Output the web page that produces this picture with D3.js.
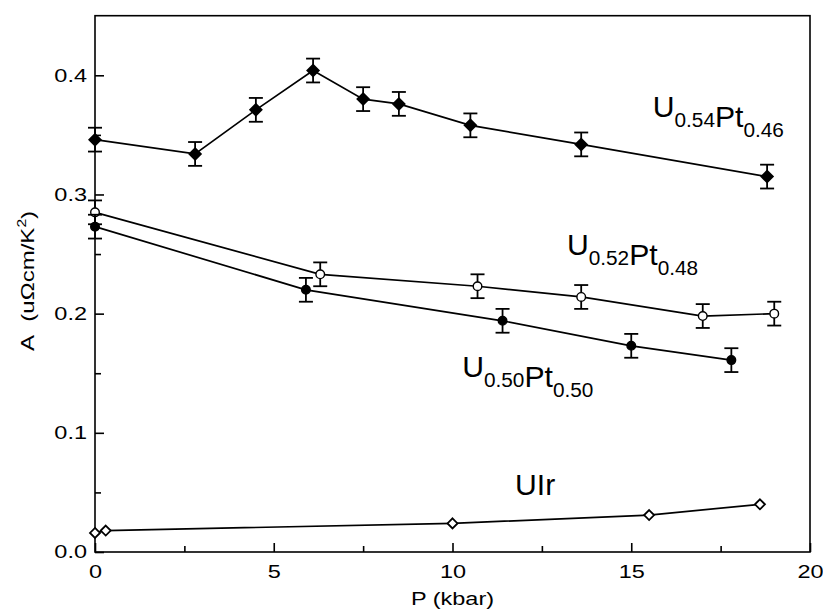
<!DOCTYPE html>
<html>
<head>
<meta charset="utf-8">
<script src="https://cdn.jsdelivr.net/npm/d3@7"></script>
<style>
  html, body { margin: 0; padding: 0; background: #fff; }
  svg { display: block; }
  text { font-family: "Liberation Sans", Arial, Helvetica, sans-serif; fill: #000; }
</style>
</head>
<body>
<svg id="chart" width="823" height="616"></svg>
<script>
// Pressure (kbar) and T^2 coefficient A (uΩcm/K^2) for each compound
const p_U54 = [0, 2.8, 4.5, 6.1, 7.5, 8.5, 10.5, 13.6, 18.8];
const a_U54 = [0.346, 0.334, 0.371, 0.404, 0.380, 0.376, 0.358, 0.342, 0.315];
const e_U54 = [0.01, 0.01, 0.01, 0.01, 0.01, 0.01, 0.01, 0.01, 0.01];

const p_U52 = [0, 6.3, 10.7, 13.6, 17.0, 19.0];
const a_U52 = [0.285, 0.233, 0.223, 0.214, 0.198, 0.200];
const e_U52 = [0.01, 0.01, 0.01, 0.01, 0.01, 0.01];

const p_U50 = [0, 5.9, 11.4, 15.0, 17.8];
const a_U50 = [0.273, 0.220, 0.194, 0.173, 0.161];
const e_U50 = [0.01, 0.01, 0.01, 0.01, 0.01];

const p_UIr = [0, 0.3, 10.0, 15.5, 18.6];
const a_UIr = [0.016, 0.018, 0.024, 0.031, 0.040];

const xTicks = [0, 5, 10, 15, 20];
const xMinor = [2.5, 7.5, 12.5, 17.5];
const yTicks = [0.0, 0.1, 0.2, 0.3, 0.4];
const yMinor = [0.05, 0.15, 0.25, 0.35];

// Compound name labels: main part and subscript part, anchored in data coords
const labelParts = [
  [["U", "0.54"], ["Pt", "0.46"]],
  [["U", "0.52"], ["Pt", "0.48"]],
  [["U", "0.50"], ["Pt", "0.50"]],
  [["UIr", ""]]
];
const labelP = [15.6, 13.2, 10.27, 11.75];
const labelA = [0.3646, 0.249, 0.1467, 0.0478];

const svg = d3.select("#chart");
const margin = { left: 95, top: 15.7, right: 13, bottom: 64 };
const W = 823 - margin.left - margin.right;
const H = 616 - margin.top - margin.bottom;

const x = d3.scaleLinear().domain([0, 20]).range([0, W]);
const y = d3.scaleLinear().domain([0, 0.45]).range([H, 0]);

const g = svg.append("g").attr("transform", `translate(${margin.left},${margin.top})`);

// Frame
g.append("rect").attr("x", 0).attr("y", 0).attr("width", W).attr("height", H)
  .attr("fill", "none").attr("stroke", "#000").attr("stroke-width", 1.6);

// Axis text is set in a slightly wide face
const tickFont = "18.5px";
const wide = 1.27;

// Inward ticks on bottom and left
const xAxis = g.append("g").attr("transform", `translate(0,${H})`)
  .call(d3.axisBottom(x).tickValues(xTicks).tickFormat(d3.format("d"))
    .tickSizeInner(-9).tickSizeOuter(0).tickPadding(13));
const xAxisMinor = g.append("g").attr("transform", `translate(0,${H})`)
  .call(d3.axisBottom(x).tickValues(xMinor).tickFormat("").tickSizeInner(-6).tickSizeOuter(0));
const yAxis = g.append("g")
  .call(d3.axisLeft(y).tickValues(yTicks).tickFormat(d3.format(".1f"))
    .tickSizeInner(-9).tickSizeOuter(0).tickPadding(8));
const yAxisMinor = g.append("g")
  .call(d3.axisLeft(y).tickValues(yMinor).tickFormat("").tickSizeInner(-6).tickSizeOuter(0));
[xAxis, xAxisMinor, yAxis, yAxisMinor].forEach(a => {
  a.select(".domain").remove();
  a.selectAll("line").attr("stroke", "#000").attr("stroke-width", 1.6);
  a.selectAll("text").attr("font-size", tickFont)
    .attr("font-family", "'Liberation Sans', Arial, Helvetica, sans-serif").attr("fill", "#000");
});
xAxis.selectAll("text").attr("dy", "0.71em")
  .attr("transform", `scale(${wide},1)`);
yAxis.selectAll("text").each(function () {
  const t = d3.select(this);
  const tx = +t.attr("x");
  t.attr("x", 0).attr("transform", `translate(${tx},0) scale(${wide},1)`);
});

// Axis titles
svg.append("text").attr("transform", `translate(${margin.left + W / 2},605) scale(${wide},1)`)
  .attr("text-anchor", "middle").attr("font-size", tickFont).text("P (kbar)");
const yt = svg.append("text")
  .attr("transform", `translate(33.5,281) rotate(-90) scale(1.3,1)`)
  .attr("text-anchor", "middle").attr("font-size", tickFont);
yt.append("tspan").text("A\u00a0\u00a0(u\u03a9cm/K");
yt.append("tspan").attr("font-size", "12px").attr("dy", "-8").text("2");
yt.append("tspan").attr("dy", "8").text(")");

// Series drawing
const line = d3.line().x(d => x(d[0])).y(d => y(d[1]));
const zip = (ps, as, es) => ps.map((p, i) => [p, as[i], es ? es[i] : 0]);

const series = [
  { data: zip(p_U54, a_U54, e_U54), marker: "diamond", fill: "#000", err: true },
  { data: zip(p_U52, a_U52, e_U52), marker: "circle", fill: "#fff", err: true },
  { data: zip(p_U50, a_U50, e_U50), marker: "circle", fill: "#000", err: true },
  { data: zip(p_UIr, a_UIr), marker: "diamond-open", fill: "#fff", err: false }
];

series.forEach(s => {
  const sg = g.append("g");
  sg.append("path").datum(s.data).attr("d", line)
    .attr("fill", "none").attr("stroke", "#000").attr("stroke-width", 1.7);
  if (s.err) {
    const eb = sg.selectAll(".err").data(s.data).enter().append("g");
    eb.append("line").attr("x1", d => x(d[0])).attr("x2", d => x(d[0]))
      .attr("y1", d => y(d[1] - d[2])).attr("y2", d => y(d[1] + d[2]))
      .attr("stroke", "#000").attr("stroke-width", 1.8);
    [-1, 1].forEach(sgn => {
      eb.append("line").attr("x1", d => x(d[0]) - 7).attr("x2", d => x(d[0]) + 7)
        .attr("y1", d => y(d[1] + sgn * d[2])).attr("y2", d => y(d[1] + sgn * d[2]))
        .attr("stroke", "#000").attr("stroke-width", 1.8);
    });
  }
  const m = sg.selectAll(".m").data(s.data).enter();
  if (s.marker === "circle") {
    m.append("circle").attr("cx", d => x(d[0])).attr("cy", d => y(d[1])).attr("r", 4.3)
      .attr("fill", s.fill).attr("stroke", "#000").attr("stroke-width", 1.4);
  } else if (s.marker === "diamond") {
    m.append("path").attr("transform", d => `translate(${x(d[0])},${y(d[1])})`)
      .attr("d", "M0,-7L7,0L0,7L-7,0Z").attr("fill", "#000");
  } else {
    m.append("path").attr("transform", d => `translate(${x(d[0])},${y(d[1])})`)
      .attr("d", "M0,-5L5,0L0,5L-5,0Z").attr("fill", "#fff")
      .attr("stroke", "#000").attr("stroke-width", 1.8);
  }
});

// Compound labels with subscripts
labelParts.forEach((parts, i) => {
  const t = g.append("text")
    .attr("transform", `translate(${x(labelP[i])},${y(labelA[i])}) scale(1.04,1)`)
    .attr("font-size", "29px");
  parts.forEach(([main, sub]) => {
    t.append("tspan").attr("font-size", "29px").attr("dy", 0).text(main);
    if (sub) {
      t.append("tspan").attr("font-size", "20px").attr("dy", 10).text(sub);
      t.append("tspan").attr("font-size", "29px").attr("dy", -10).text("");
    }
  });
});
</script>
</body>
</html>
